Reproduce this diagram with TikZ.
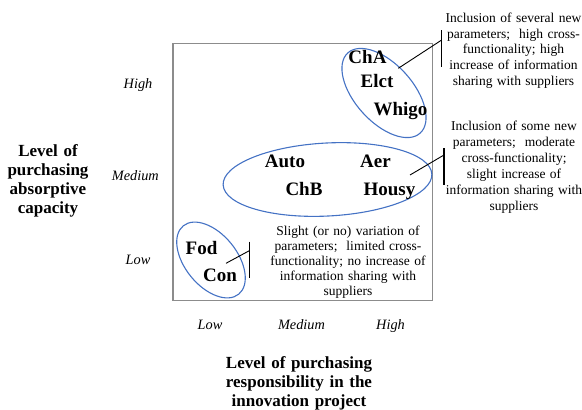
\documentclass[tikz,border=0pt]{standalone}
\usepackage{fontspec}
\setmainfont{Liberation Serif}
\usetikzlibrary{shapes.geometric}
\definecolor{ellblue}{HTML}{4472C4}
\definecolor{boxgray}{HTML}{8C8C8C}
\begin{document}
\begin{tikzpicture}[x=1pt,y=-1pt,
  grp/.style={draw=ellblue,line width=1.1pt,ellipse,inner sep=0pt},
  firm/.style={font=\fontsize{19}{22}\selectfont\bfseries,anchor=base,inner sep=0pt},
  lvl/.style={font=\fontsize{14.3}{16}\selectfont\itshape,anchor=base,inner sep=0pt},
  ttl/.style={font=\fontsize{17}{19}\selectfont\bfseries,anchor=base,inner sep=0pt,text width=160pt,align=center},
  note/.style={font=\fontsize{13.5}{15.5}\selectfont,anchor=base,inner sep=0pt,text width=180pt,align=center},
  bar/.style={line width=1.3pt},
  lead/.style={line width=0.9pt}]
\useasboundingbox (0,0) rectangle (582,410);
% frame
\node[draw=boxgray,line width=1.2pt,minimum width=259.5pt,minimum height=257pt,inner sep=0pt] (frame) at (302.75,172) {};
% ellipses
\node[grp,minimum width=108pt,minimum height=58pt,rotate=-48] (e1) at (384,93) {};
\node[grp,minimum width=209pt,minimum height=73pt,rotate=3] (e2) at (327.5,179.5) {};
\node[grp,minimum width=88pt,minimum height=52pt,rotate=-51] (e3) at (211,260) {};
% firm names
\node[firm] (cha) at (367.5,63.5) {ChA};
\node[firm] (elct) at (377,87.5) {Elct};
\node[firm] (whigo) at (400.5,115) {Whigo};
\node[firm] (auto) at (285,167.3) {Auto};
\node[firm] (aer) at (375.5,167.3) {Aer};
\node[firm] (chb) at (304,195) {ChB};
\node[firm] (housy) at (389.5,195) {Housy};
\node[firm] (fod) at (201.5,254.3) {Fod};
\node[firm] (con) at (220,281.7) {Con};
% level labels
\node[lvl] (yhigh) at (138,88.3) {High};
\node[lvl] (ymed) at (135.3,180) {Medium};
\node[lvl] (ylow) at (138,264) {Low};
\node[lvl] (xlow) at (210,329.3) {Low};
\node[lvl] (xmed) at (301.5,329.3) {Medium};
\node[lvl] (xhigh) at (390.5,329.3) {High};
% axis titles
\node[ttl] (ytitle) at (48,156.7) {Level of\\purchasing\\absorptive\\capacity};
\node[ttl,font=\fontsize{17}{19.3}\selectfont\bfseries] (xtitle) at (299,368.3) {Level of purchasing\\responsibility in the\\innovation project};
% notes
\node[note,font=\fontsize{13.5}{15.6}\selectfont] (n1) at (513.5,22.7) {Inclusion of several new\\parameters;\ \ high cross-\\functionality; high\\increase of information\\sharing with suppliers};
\node[note,font=\fontsize{13.5}{16}\selectfont] (n2) at (514,130.7) {Inclusion of some new\\parameters;\ \ moderate\\cross-functionality;\\slight increase of\\information sharing with\\suppliers};
\node[note,font=\fontsize{13.5}{15}\selectfont] (n3) at (348,235) {Slight (or no) variation of\\parameters;\ \ limited cross-\\functionality; no increase of\\information sharing with\\suppliers};
% callout brackets
\coordinate (b1t) at (441.7,30);
\coordinate (b1b) at (441.7,66.7);
\coordinate (b1m) at (441.7,40);
\coordinate (l1) at (398.3,68.3);
\draw[bar] (b1t) -- (b1b);
\draw[lead] (l1) -- (b1m);
\coordinate (b2t) at (444,148);
\coordinate (b2b) at (444,185);
\coordinate (b2m) at (444,155);
\coordinate (l2) at (410,175);
\draw[bar] (b2t) -- (b2b);
\draw[lead] (l2) -- (b2m);
\coordinate (b3t) at (249.3,241.7);
\coordinate (b3b) at (249.3,278.3);
\coordinate (b3m) at (249.3,250.7);
\coordinate (l3) at (226,263.3);
\draw[bar] (b3t) -- (b3b);
\draw[lead] (l3) -- (b3m);
\end{tikzpicture}
\end{document}
